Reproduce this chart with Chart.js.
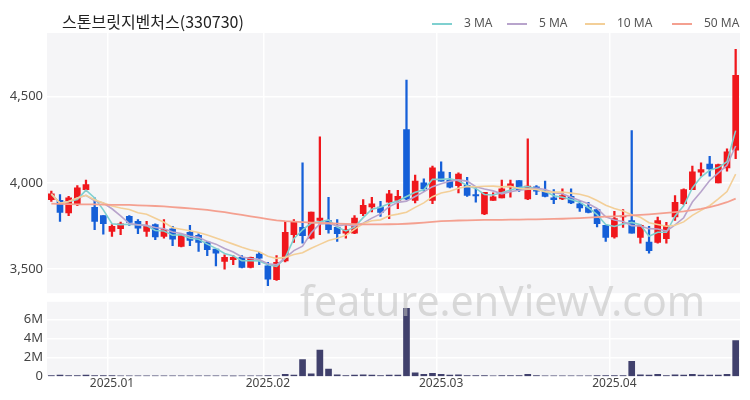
<!DOCTYPE html>
<html><head><meta charset="utf-8">
<script src="https://cdn.jsdelivr.net/npm/chart.js@4"></script>
<style>
body{margin:0;background:#fff;font-family:"Noto Sans","Noto Sans CJK KR",sans-serif;}
#wrap{position:relative;width:750px;height:400px;overflow:hidden}
canvas{position:absolute;left:0}
#title{position:absolute;left:62px;top:9px;font-size:16px;color:#222;font-family:"Noto Sans CJK KR",sans-serif}
.lg{position:absolute;top:14px;font-size:12px;color:#555}
.lg i{display:inline-block;width:20px;height:2px;vertical-align:middle;margin-right:12px}
#wm{position:absolute;left:300px;top:272px;font-size:41px;color:rgba(190,190,190,0.55);font-family:"Noto Sans",sans-serif;pointer-events:none;z-index:5;letter-spacing:0px}
</style></head><body>
<div id="wrap">
<canvas id="pc" width="750" height="305" style="top:0"></canvas>
<canvas id="vc" width="750" height="101" style="top:290px"></canvas>
<div id="title">스톤브릿지벤처스(330730)</div>
<div class="lg" style="left:432px"><i style="background:#7fd0d0"></i>3 MA</div>
<div class="lg" style="left:507px"><i style="background:#b8a4cc"></i>5 MA</div>
<div class="lg" style="left:585px"><i style="background:#f3cf98"></i>10 MA</div>
<div class="lg" style="left:672px"><i style="background:#f4a090"></i>50 MA</div>
<div id="wm">feature.enViewV.com</div>
</div>
<script>
const dates=["2024.12.19","2024.12.20","2024.12.23","2024.12.24","2024.12.26","2024.12.27","2024.12.30",
"2025.01.02","2025.01.03","2025.01.06","2025.01.07","2025.01.08","2025.01.09","2025.01.10","2025.01.13","2025.01.14","2025.01.15","2025.01.16","2025.01.17","2025.01.20","2025.01.21","2025.01.22","2025.01.23","2025.01.24","2025.01.31",
"2025.02.03","2025.02.04","2025.02.05","2025.02.06","2025.02.07","2025.02.10","2025.02.11","2025.02.12","2025.02.13","2025.02.14","2025.02.17","2025.02.18","2025.02.19","2025.02.20","2025.02.21","2025.02.24","2025.02.25","2025.02.26","2025.02.27","2025.02.28",
"2025.03.04","2025.03.05","2025.03.06","2025.03.07","2025.03.10","2025.03.11","2025.03.12","2025.03.13","2025.03.14","2025.03.17","2025.03.18","2025.03.19","2025.03.20","2025.03.21","2025.03.24","2025.03.25","2025.03.26","2025.03.27","2025.03.28","2025.03.31",
"2025.04.01","2025.04.02","2025.04.03","2025.04.04","2025.04.07","2025.04.08","2025.04.09","2025.04.10","2025.04.11","2025.04.14","2025.04.15","2025.04.16","2025.04.17","2025.04.18","2025.04.21"];
const tickLabels={"2025.01.02":"2025.01","2025.02.03":"2025.02","2025.03.04":"2025.03","2025.04.01":"2025.04"};
const opens=[3903,3899,3826,3874,3961,3859,3810,3719,3734,3806,3777,3719,3758,3690,3733,3632,3713,3696,3657,3616,3545,3554,3568,3510,3587,3519,3438,3548,3700,3742,3680,3783,3781,3742,3709,3709,3822,3860,3860,3888,3899,4310,3899,4000,3899,4064,4016,3984,3986,3932,3820,3899,3913,3977,4014,3907,3977,3952,3913,3907,3922,3878,3859,3845,3754,3686,3802,3781,3684,3657,3655,3676,3802,3880,3961,4062,4110,4000,4087,4190];
const closes=[3936,3829,3913,3971,3990,3777,3764,3748,3762,3771,3738,3748,3686,3729,3674,3696,3667,3655,3612,3593,3568,3568,3510,3568,3564,3442,3539,3713,3777,3694,3831,3796,3729,3705,3729,3796,3870,3878,3829,3936,3922,3907,4010,3965,4087,4010,3975,4052,3928,3924,3946,3919,3965,3994,3961,3981,3952,3922,3903,3926,3884,3855,3829,3764,3684,3793,3810,3709,3754,3607,3781,3752,3888,3961,4064,4078,4081,4107,4180,4624];
const highs=[3952,3932,3922,3984,4016,3913,3810,3758,3773,3810,3787,3777,3762,3787,3748,3700,3754,3705,3661,3618,3583,3578,3578,3570,3597,3539,3578,3777,3787,4116,3831,4267,3917,3787,3754,3810,3903,3917,3893,3957,3957,4597,4045,4023,4097,4122,4062,4058,4033,3980,3946,3942,4016,4016,4014,4256,3984,4010,3961,3965,3965,3897,3888,3849,3754,3835,3845,4304,3758,3748,3802,3771,3926,3965,4097,4116,4155,4110,4198,4775];
const lows=[3893,3777,3810,3868,3952,3729,3703,3690,3700,3754,3705,3690,3670,3680,3636,3628,3636,3603,3578,3519,3500,3525,3506,3506,3525,3403,3434,3541,3655,3651,3674,3700,3709,3661,3680,3705,3810,3831,3806,3793,3851,3903,3884,3952,3880,4010,3971,3942,3922,3888,3816,3899,3913,3917,3950,3903,3932,3919,3880,3903,3880,3835,3826,3744,3661,3680,3742,3709,3651,3593,3651,3651,3783,3874,3961,4039,4039,4000,4068,4140];
const volumesM=[0.12,0.15,0.1,0.12,0.15,0.12,0.1,0.1,0.08,0.08,0.07,0.08,0.07,0.07,0.08,0.07,0.07,0.06,0.07,0.06,0.07,0.05,0.06,0.06,0.06,0.1,0.08,0.25,0.15,1.8,0.3,2.8,0.8,0.2,0.12,0.15,0.2,0.15,0.12,0.15,0.15,7.2,0.4,0.25,0.35,0.25,0.15,0.2,0.12,0.1,0.12,0.08,0.1,0.1,0.1,0.25,0.1,0.08,0.07,0.07,0.08,0.07,0.07,0.1,0.12,0.1,0.12,1.6,0.2,0.15,0.25,0.12,0.2,0.15,0.25,0.15,0.15,0.15,0.25,3.8];
const ma50=[3880,3878,3877,3876,3876,3875,3874,3873,3873,3872,3870,3868,3866,3864,3860,3856,3852,3848,3843,3836,3830,3822,3814,3806,3798,3790,3783,3778,3775,3772,3770,3768,3766,3764,3762,3760,3759,3759,3759,3760,3761,3763,3766,3770,3774,3778,3780,3782,3783,3784,3785,3786,3786,3787,3787,3788,3789,3790,3791,3792,3794,3796,3798,3801,3804,3806,3809,3812,3815,3818,3822,3826,3830,3835,3842,3850,3860,3872,3888,3909];

function ma(n){return closes.map((c,i)=>{const s=closes.slice(Math.max(0,i-n+1),i+1);return s.reduce((a,b)=>a+b,0)/s.length;});}
const RED='#f0171c',BLUE='#155fd8';
const col=closes.map((c,i)=>c>=opens[i]?RED:BLUE);
const yW=47;
const fitY=s=>{s.width=yW;};
const gridX={color:(c)=>(c.tick&&tickLabels[dates[c.tick.value]])?'#ffffff':'rgba(0,0,0,0)',lineWidth:1.5,drawTicks:false};
const bgPlugin={id:'bg',beforeDraw(ch){const a=ch.chartArea,c=ch.ctx;c.save();c.fillStyle='#f5f5f7';c.fillRect(a.left,a.top,a.right-a.left,a.bottom-a.top);c.restore();}};
const line=(d,color,w)=>({type:'line',data:d,borderColor:color,borderWidth:w||1.6,pointRadius:0,tension:0,order:0});
new Chart(document.getElementById('pc'),{
 data:{labels:dates,datasets:[
  line(ma50,'#f4a090',1.8),line(ma(10),'#f3cf98'),line(ma(5),'#b8a4cc'),line(ma(3),'#7fd0d0'),
  {type:'bar',data:lows.map((l,i)=>[l,highs[i]]),backgroundColor:col,barThickness:1.6,grouped:false,order:2},
  {type:'bar',data:opens.map((o,i)=>[o,o===closes[i]?o+3:closes[i]]),backgroundColor:col,barThickness:6,grouped:false,order:1}
 ]},
 plugins:[bgPlugin],
 options:{responsive:false,animation:false,events:[],layout:{padding:{top:33,right:10,bottom:0,left:0}},
  plugins:{legend:{display:false},tooltip:{enabled:false}},
  scales:{x:{offset:true,grid:gridX,border:{display:false},ticks:{display:false}},
   y:{min:3360,max:4870,afterFit:fitY,border:{display:false},grid:{color:'#ffffff',lineWidth:1.5,drawTicks:false},
    afterBuildTicks:s=>{s.ticks=[3500,4000,4500].map(v=>({value:v}));},
    ticks:{padding:4,color:'#444',font:{size:13,family:'Noto Sans'},callback:v=>v.toLocaleString('en-US')}}}}
});
new Chart(document.getElementById('vc'),{
 type:'bar',
 data:{labels:dates,datasets:[{data:volumesM,backgroundColor:'#40406c',barThickness:6}]},
 plugins:[bgPlugin],
 options:{responsive:false,animation:false,events:[],layout:{padding:{top:8,right:10,bottom:0,left:0}},
  plugins:{legend:{display:false},tooltip:{enabled:false}},
  scales:{x:{offset:true,grid:gridX,border:{display:false},
    ticks:{autoSkip:false,maxRotation:0,padding:0,color:'#444',font:{size:12,family:'Noto Sans'},callback:(v)=>tickLabels[dates[v]]||''}},
   y:{min:0,max:7.9,afterFit:fitY,border:{display:false},grid:{color:'#ffffff',lineWidth:1.5,drawTicks:false},
    afterBuildTicks:s=>{s.ticks=[0,2,4,6].map(v=>({value:v}));},
    ticks:{padding:4,color:'#444',font:{size:13,family:'Noto Sans'},callback:v=>v===0?'0':v+'M'}}}}
});
</script></body></html>
